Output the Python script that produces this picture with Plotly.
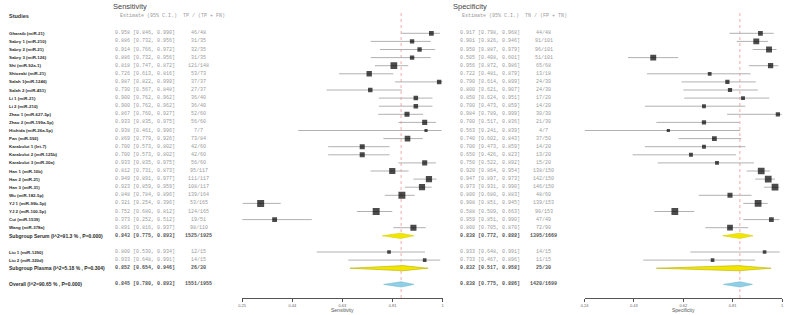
import numpy as np
import plotly.graph_objects as go

# ---------------- data ----------------
study_names = ["Gharaib (miR-21)", "Sabry 1 (miR-210)", "Sabry 2 (miR-21)", "Sabry 3 (miR-126)",
               "Shi (miR-92a-1)", "Shiozaki (miR-21)", "Salah 1(miR-1246)", "Salah 2 (miR-451)",
               "Li 1 (miR-21)", "Li 2 (miR-210)", "Zhao 1 (miR-627-5p)", "Zhao 2 (miR-199a-5p)",
               "Hichida (miR-26a-5p)", "Pan (miR-592)", "Karabulut 1 (let-7)", "Karabulut 2 (miR-125b)",
               "Karabulut 3 (miR-30a)", "Han 1 (miR-10b)", "Han 2 (miR-21)", "Han 3 (miR-31)",
               "Wu (miR-182-5p)", "YJ 1 (miR-99b-5p)", "YJ 2 (miR-100-5p)", "Cui (miR-1539)",
               "Wang (miR-378a)", "Liu 1 (miR-1290)", "Liu 2 (miR-320d)"]
study_group = ["Serum"] * 25 + ["Plasma"] * 2

sens_est = [0.958, 0.886, 0.914, 0.886, 0.818, 0.726, 0.987, 0.730, 0.900, 0.900, 0.867, 0.933, 0.938,
            0.869, 0.700, 0.700, 0.933, 0.812, 0.949, 0.923, 0.848, 0.321, 0.752, 0.373, 0.891, 0.800, 0.933]
sens_lo = [0.846, 0.732, 0.766, 0.732, 0.747, 0.613, 0.822, 0.567, 0.762, 0.762, 0.760, 0.835, 0.461,
           0.779, 0.573, 0.573, 0.835, 0.731, 0.891, 0.859, 0.784, 0.254, 0.680, 0.252, 0.816, 0.530, 0.648]
sens_hi = [0.990, 0.956, 0.972, 0.956, 0.872, 0.816, 0.999, 0.848, 0.962, 0.962, 0.927, 0.975, 0.996,
           0.926, 0.802, 0.802, 0.975, 0.873, 0.977, 0.959, 0.896, 0.396, 0.812, 0.512, 0.937, 0.934, 0.991]
sens_tp = [46, 31, 32, 31, 121, 53, 37, 27, 36, 36, 52, 56, 7, 73, 42, 42, 56, 95, 111, 108, 139, 53, 124, 19, 98, 12, 14]
sens_n = [48, 35, 35, 35, 148, 73, 37, 37, 40, 40, 60, 60, 7, 84, 60, 60, 60, 117, 117, 117, 164, 165, 165, 51, 110, 15, 15]

spec_est = [0.917, 0.901, 0.950, 0.505, 0.956, 0.722, 0.790, 0.800, 0.850, 0.700, 0.984, 0.700, 0.563,
            0.740, 0.700, 0.650, 0.750, 0.920, 0.947, 0.973, 0.800, 0.908, 0.588, 0.959, 0.800, 0.933, 0.733]
spec_lo = [0.798, 0.826, 0.887, 0.408, 0.872, 0.481, 0.614, 0.621, 0.624, 0.473, 0.789, 0.517, 0.241,
           0.602, 0.473, 0.426, 0.522, 0.864, 0.897, 0.931, 0.680, 0.851, 0.509, 0.851, 0.705, 0.648, 0.467]
spec_hi = [0.968, 0.946, 0.979, 0.601, 0.986, 0.879, 0.899, 0.907, 0.951, 0.859, 0.999, 0.836, 0.839,
           0.843, 0.859, 0.823, 0.892, 0.954, 0.973, 0.990, 0.883, 0.945, 0.663, 0.990, 0.870, 0.991, 0.896]
spec_tn = [44, 91, 96, 51, 65, 13, 24, 24, 17, 14, 30, 21, 4, 37, 14, 13, 15, 138, 142, 146, 48, 139, 90, 47, 72, 14, 11]
spec_n = [48, 101, 101, 101, 68, 18, 30, 30, 20, 20, 30, 30, 7, 50, 20, 20, 20, 150, 150, 150, 60, 153, 153, 49, 90, 15, 15]

summary_labels = ["Subgroup Serum (I^2=91.3 % , P=0.000)", "Subgroup Plasma (I^2=5.18 % , P=0.304)",
                  "Overall (I^2=90.65 % , P=0.000)"]
sum_sens_est = [0.843, 0.852, 0.845]
sum_sens_lo = [0.775, 0.654, 0.780]
sum_sens_hi = [0.893, 0.946, 0.893]
sum_sens_tp = [1525, 26, 1551]
sum_sens_n = [1925, 30, 1955]
sum_spec_est = [0.838, 0.832, 0.838]
sum_spec_lo = [0.772, 0.517, 0.775]
sum_spec_hi = [0.888, 0.958, 0.886]
sum_spec_tn = [1395, 25, 1420]
sum_spec_n = [1669, 30, 1699]

# ---------------- layout helpers ----------------
W, H = 788, 315
ROW0, ROWH = 33.3, 8.1  # pixel of first row, pixel per row


def px2row(p):
    return (p - ROW0) / ROWH


def px2paper_y(p):
    return 1 - p / H


# assign rows: studies by group, subgroup summary, blank row
rows_study = [0] * len(study_names)
rows_summary = []
r = 0
for g in ["Serum", "Plasma"]:
    for i, sg in enumerate(study_group):
        if sg == g:
            rows_study[i] = r
            r += 1
    rows_summary.append(r)
    r += 2
rows_summary.append(r)

fig = go.Figure()

# axis geometry (pixels)
SENS_X0, SENS_X1 = 240, 442
SPEC_X0, SPEC_X1 = 585, 784
AXIS_Y = 298
TOP_Y = 13

sens_min = min(sens_lo + sum_sens_lo)
spec_min = min(spec_lo + sum_spec_lo)


def msize(n):
    return 2.2 + 0.37 * np.sqrt(n)


def add_panel(xa, est, lo, hi, n, s_est, s_lo, s_hi):
    # reference line at overall estimate
    fig.add_trace(go.Scatter(x=[s_est[2], s_est[2]], y=[px2row(TOP_Y), px2row(AXIS_Y)], mode="lines",
                             line=dict(color="rgba(240,110,110,0.65)", width=0.9, dash="dot"),
                             xaxis=xa, yaxis="y", showlegend=False, hoverinfo="skip"))
    # CI lines
    xs, ys = [], []
    for i in range(len(est)):
        xs += [lo[i], hi[i], None]
        ys += [rows_study[i], rows_study[i], None]
    fig.add_trace(go.Scatter(x=xs, y=ys, mode="lines", xaxis=xa, yaxis="y",
                             line=dict(color="#a8a8a8", width=0.9), hoverinfo="skip", showlegend=False))
    # squares
    fig.add_trace(go.Scatter(x=est, y=rows_study, mode="markers", xaxis=xa, yaxis="y",
                             marker=dict(symbol="square", color="black", size=[msize(v) for v in n],
                                         line=dict(width=0)),
                             showlegend=False))
    # diamonds
    fills = ["#f2e600", "#f2e600", "#8fd0e6"]
    lines = ["#d8d000", "#b8b000", "#70b8d0"]
    h = 0.32
    for k in range(3):
        rr = rows_summary[k]
        fig.add_trace(go.Scatter(x=[s_lo[k], s_est[k], s_hi[k], s_est[k], s_lo[k]],
                                 y=[rr, rr - h, rr, rr + h, rr], mode="lines", fill="toself",
                                 fillcolor=fills[k], line=dict(color=lines[k], width=0.6),
                                 xaxis=xa, yaxis="y", showlegend=False, hoverinfo="skip"))


add_panel("x", sens_est, sens_lo, sens_hi, sens_n, sum_sens_est, sum_sens_lo, sum_sens_hi)
add_panel("x2", spec_est, spec_lo, spec_hi, spec_n, sum_spec_est, sum_spec_lo, sum_spec_hi)


def tick_setup(mn):
    vals = list(np.linspace(mn, 1.0, 5))
    txt = [("%.2f" % v) if v < 0.9999 else "1" for v in vals]
    return vals, txt


sv, st = tick_setup(sens_min)
pv, pt = tick_setup(spec_min)
axis_common = dict(showgrid=False, zeroline=False, showline=True, linecolor="#555", linewidth=0.8,
                   ticks="outside", ticklen=3, tickwidth=0.8, tickcolor="#555",
                   tickfont=dict(size=4, color="#666", family="Liberation Sans"),
                   anchor="free", position=px2paper_y(AXIS_Y), fixedrange=True)

fig.update_layout(
    width=W, height=H, margin=dict(l=0, r=0, t=0, b=0),
    paper_bgcolor="white", plot_bgcolor="rgba(0,0,0,0)", showlegend=False,
    xaxis=dict(domain=[SENS_X0 / W, SENS_X1 / W], range=[sens_min, 1.0], tickvals=sv, ticktext=st,
               **axis_common),
    xaxis2=dict(domain=[SPEC_X0 / W, SPEC_X1 / W], range=[spec_min, 1.0], tickvals=pv, ticktext=pt,
                **axis_common),
    yaxis=dict(domain=[0, 1], range=[px2row(H), px2row(0)], visible=False, fixedrange=True),
)

# ---------------- text ----------------
ann = []
SANS = "Liberation Sans, Arial, sans-serif"
MONO = "Liberation Mono, Courier New, monospace"


def add_text(xpx, row, text, size, color, family, anchor="left", yref="y"):
    ann.append(dict(x=xpx / W, xref="paper", y=row, yref=yref, text=text, showarrow=False,
                    xanchor=anchor, yanchor="middle", font=dict(size=size, color=color, family=family)))


def fmt(e, l, h):
    return "%.3f [%.3f, %.3f]" % (e, l, h)


for i, nm in enumerate(study_names):
    rr = rows_study[i]
    add_text(3, rr, "<b>" + nm + "</b>", 4.4, "#2a2a2a", SANS)
    add_text(110, rr, fmt(sens_est[i], sens_lo[i], sens_hi[i]), 5, "#9a9a9a", MONO)
    add_text(196, rr, "%d/%d" % (sens_tp[i], sens_n[i]), 5, "#9a9a9a", MONO, anchor="center")
    add_text(457, rr, fmt(spec_est[i], spec_lo[i], spec_hi[i]), 5, "#9a9a9a", MONO)
    add_text(544, rr, "%d/%d" % (spec_tn[i], spec_n[i]), 5, "#9a9a9a", MONO, anchor="center")

for k, lab in enumerate(summary_labels):
    rr = rows_summary[k]
    add_text(3, rr, "<b>" + lab + "</b>", 5, "#2a2a2a", SANS)
    add_text(110, rr, "<b>" + fmt(sum_sens_est[k], sum_sens_lo[k], sum_sens_hi[k]) + "</b>", 5, "#555", MONO)
    add_text(196, rr, "<b>%d/%d</b>" % (sum_sens_tp[k], sum_sens_n[k]), 5, "#555", MONO, anchor="center")
    add_text(457, rr, "<b>" + fmt(sum_spec_est[k], sum_spec_lo[k], sum_spec_hi[k]) + "</b>", 5, "#555", MONO)
    add_text(544, rr, "<b>%d/%d</b>" % (sum_spec_tn[k], sum_spec_n[k]), 5, "#555", MONO, anchor="center")

# headers
add_text(3, px2paper_y(16), "<b>Studies</b>", 5.5, "#333", SANS, yref="paper")
add_text(108, px2paper_y(6), "Sensitivity", 7.5, "#444", SANS, yref="paper")
add_text(450, px2paper_y(6), "Specificity", 7.5, "#444", SANS, yref="paper")
add_text(115, px2paper_y(16), "Estimate (95% C.I.)  TP / (TP + FN)", 5, "#9a9a9a", MONO, yref="paper")
add_text(460, px2paper_y(16), "Estimate (95% C.I.)  TN / (FP + TN)", 5, "#9a9a9a", MONO, yref="paper")
add_text((SENS_X0 + SENS_X1) / 2, px2paper_y(310), "Sensitivity", 5, "#555", SANS, anchor="center", yref="paper")
add_text((SPEC_X0 + SPEC_X1) / 2, px2paper_y(310), "Specificity", 5, "#555", SANS, anchor="center", yref="paper")

fig.update_layout(annotations=ann)
fig.write_html("out.html")
